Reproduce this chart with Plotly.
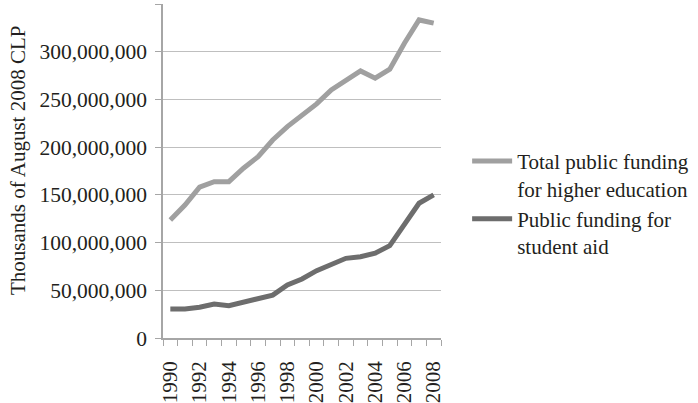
import plotly.graph_objects as go

years = [str(y) for y in range(1990, 2009)]
total_funding = [123.7e6, 139.4e6, 158.0e6, 163.8e6, 163.8e6, 177.9e6, 190.0e6, 207.5e6,
                 221.5e6, 233.8e6, 245.3e6, 260.0e6, 270.4e6, 279.9e6, 272.2e6, 281.7e6,
                 308.9e6, 333.3e6, 329.9e6]
student_aid = [30.4e6, 30.4e6, 32.2e6, 35.6e6, 33.9e6, 37.7e6, 40.6e6, 45.0e6, 55.6e6,
               61.8e6, 70.6e6, 77.2e6, 83.5e6, 85.2e6, 88.8e6, 96.8e6, 119.2e6, 141.2e6,
               149.9e6]
y_tickvals = [0, 50e6, 100e6, 150e6, 200e6, 250e6, 300e6, 350e6]
y_ticktext = ["0", "50,000,000", "100,000,000", "150,000,000", "200,000,000",
              "250,000,000", "300,000,000", ""]
x_ticktext = [y if int(y) % 2 == 0 else "" for y in years]

FONT = "Liberation Serif, Times New Roman, serif"
fig = go.Figure()
fig.add_trace(go.Scatter(x=years, y=total_funding, mode="lines",
                         name="Total public funding<br>for higher education",
                         line=dict(color="#a0a0a0", width=5)))
fig.add_trace(go.Scatter(x=years, y=student_aid, mode="lines",
                         name="Public funding for<br>student aid",
                         line=dict(color="#6d6d6d", width=5)))

fig.update_layout(
    width=698, height=403,
    margin=dict(l=163, r=255, t=4, b=65),
    paper_bgcolor="white", plot_bgcolor="white",
    font=dict(family=FONT, size=21, color="#231f20"),
    showlegend=True,
    legend=dict(x=1.094, y=0.59, xanchor="left", yanchor="top", valign="top",
                font=dict(family=FONT, size=21, color="#231f20"),
                tracegroupgap=20, itemwidth=40, bgcolor="rgba(0,0,0,0)"),
    xaxis=dict(type="category", tickmode="array", tickvals=years, ticktext=x_ticktext,
               range=[-0.5, 18.5], tickangle=-90, tickson="boundaries", ticks="outside",
               ticklen=6, tickcolor="#a6a6a6", showline=True, linecolor="#a6a6a6",
               linewidth=1.5, showgrid=False, ticklabelstandoff=13, automargin=False,
               tickfont=dict(family=FONT, size=21, color="#231f20")),
    yaxis=dict(range=[0, 350e6], tickmode="array", tickvals=y_tickvals, ticktext=y_ticktext,
               ticks="outside", ticklen=6, tickcolor="#a6a6a6", showline=True,
               linecolor="#a6a6a6", linewidth=1.5, showgrid=True, gridcolor="#bfbfbf",
               gridwidth=1.2, zeroline=False, ticklabelstandoff=4, automargin=False,
               tickfont=dict(family=FONT, size=21.5, color="#231f20")),
)
fig.add_annotation(text="Thousands of August 2008 CLP", textangle=-90,
                   xref="paper", yref="paper", x=(17 - 163) / 280, y=(338 - 160) / 334,
                   xanchor="center", yanchor="middle", showarrow=False,
                   font=dict(family=FONT, size=21, color="#231f20"))

fig.write_html("out.html")
